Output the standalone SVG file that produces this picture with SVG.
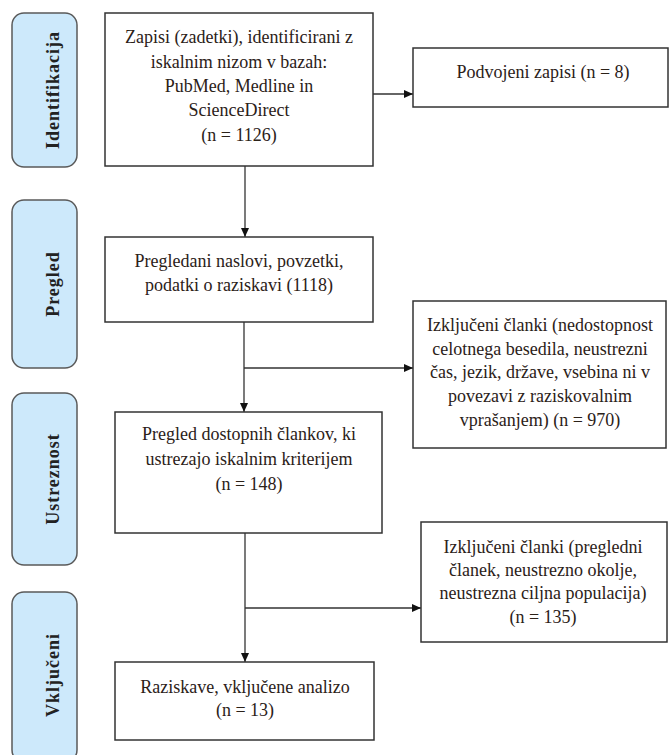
<svg xmlns="http://www.w3.org/2000/svg" width="669" height="755" viewBox="0 0 669 755">
<style>
.pill{fill:#cde9fb;stroke:#5a5a5a;stroke-width:1.5}
.box{fill:#fff;stroke:#333;stroke-width:1.5}
.t{font-family:"Liberation Serif","Times New Roman",serif;font-size:18px;fill:#2b2118;text-anchor:middle}
.side{font-family:"Liberation Serif","Times New Roman",serif;font-size:18px;font-weight:bold;fill:#222;text-anchor:middle;letter-spacing:1px}
.c{stroke:#333;stroke-width:1.3;fill:none}
</style>
<defs>
<marker id="ah" markerUnits="userSpaceOnUse" markerWidth="9" markerHeight="8" refX="9" refY="4" orient="auto">
<path d="M0,0 L9,4 L0,8 z" fill="#111"/>
</marker>
</defs>
<rect width="669" height="755" fill="#fff"/>
<g id="stage-identifikacija">
<rect class="pill" x="12" y="13" width="65" height="154" rx="12"/>
<text class="side" transform="translate(59,90) rotate(-90)">Identifikacija</text>
</g>
<g id="stage-pregled">
<rect class="pill" x="12" y="200" width="65" height="168" rx="12"/>
<text class="side" transform="translate(59,284) rotate(-90)">Pregled</text>
</g>
<g id="stage-ustreznost">
<rect class="pill" x="12" y="393" width="65" height="172" rx="12"/>
<text class="side" transform="translate(59,479) rotate(-90)">Ustreznost</text>
</g>
<g id="stage-vkljuceni">
<rect class="pill" x="12" y="592" width="65" height="170" rx="12"/>
<text class="side" transform="translate(59,675) rotate(-90)">Vključeni</text>
</g>
<g id="connectors">
<line class="c" x1="245" y1="166" x2="245" y2="237" marker-end="url(#ah)"/>
<line class="c" x1="373" y1="94" x2="413" y2="94" marker-end="url(#ah)"/>
<line class="c" x1="244" y1="322" x2="244" y2="412" marker-end="url(#ah)"/>
<line class="c" x1="244" y1="368" x2="413" y2="368" marker-end="url(#ah)"/>
<line class="c" x1="245" y1="533" x2="245" y2="662" marker-end="url(#ah)"/>
<line class="c" x1="245" y1="608" x2="421" y2="608" marker-end="url(#ah)"/>
</g>
<g id="records">
<rect class="box" x="105" y="13" width="268" height="153"/>
<text class="t" x="239" y="43">Zapisi (zadetki), identificirani z</text>
<text class="t" x="239" y="68">iskalnim nizom v bazah:</text>
<text class="t" x="239" y="92">PubMed, Medline in</text>
<text class="t" x="239" y="116">ScienceDirect</text>
<text class="t" x="239" y="141">(n = 1126)</text>
</g>
<g id="duplicates">
<rect class="box" x="413" y="48" width="255" height="59"/>
<text class="t" x="543" y="78">Podvojeni zapisi (n = 8)</text>
</g>
<g id="screened">
<rect class="box" x="105" y="237" width="268" height="85"/>
<text class="t" x="239" y="267">Pregledani naslovi, povzetki,</text>
<text class="t" x="239" y="291">podatki o raziskavi (1118)</text>
</g>
<g id="excluded-1">
<rect class="box" x="413" y="301" width="253" height="147"/>
<text class="t" x="540" y="331">Izključeni članki (nedostopnost</text>
<text class="t" x="540" y="355">celotnega besedila, neustrezni</text>
<text class="t" x="540" y="378">čas, jezik, države, vsebina ni v</text>
<text class="t" x="540" y="402">povezavi z raziskovalnim</text>
<text class="t" x="540" y="426">vprašanjem) (n = 970)</text>
</g>
<g id="eligible">
<rect class="box" x="115" y="412" width="267" height="121"/>
<text class="t" x="249" y="440">Pregled dostopnih člankov, ki</text>
<text class="t" x="249" y="465">ustrezajo iskalnim kriterijem</text>
<text class="t" x="249" y="490">(n = 148)</text>
</g>
<g id="excluded-2">
<rect class="box" x="421" y="522" width="246" height="120"/>
<text class="t" x="543" y="553">Izključeni članki (pregledni</text>
<text class="t" x="543" y="576">članek, neustrezno okolje,</text>
<text class="t" x="543" y="599">neustrezna ciljna populacija)</text>
<text class="t" x="543" y="623">(n = 135)</text>
</g>
<g id="included">
<rect class="box" x="115" y="662" width="259" height="78"/>
<text class="t" x="245" y="693">Raziskave, vključene analizo</text>
<text class="t" x="245" y="716">(n = 13)</text>
</g>
</svg>
